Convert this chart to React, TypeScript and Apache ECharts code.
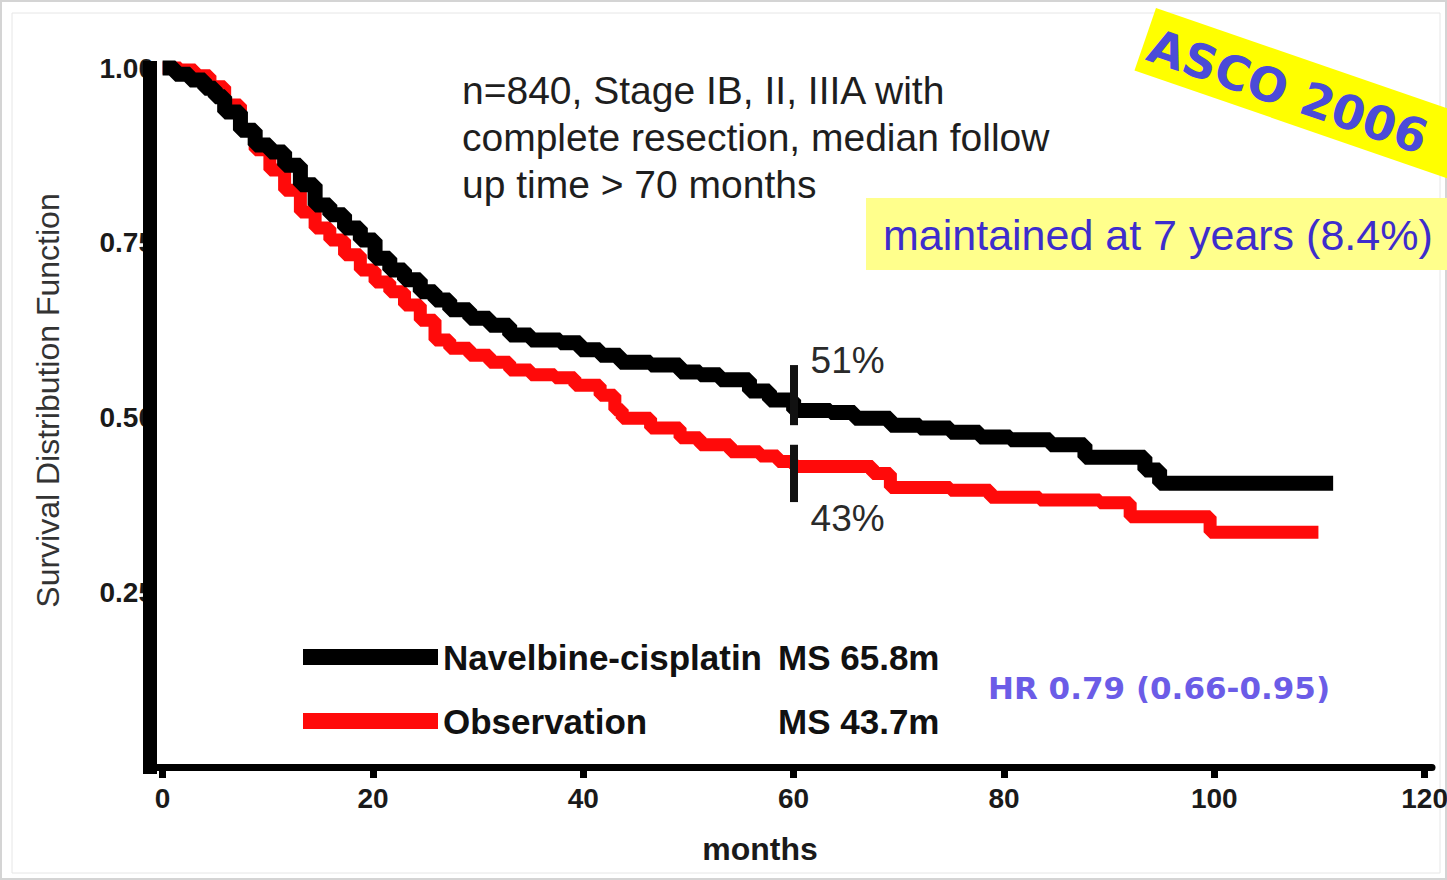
import React, { useEffect, useRef } from "react";
import * as echarts from "echarts";

// Kaplan-Meier overall survival, adjuvant vinorelbine-cisplatin vs observation
const vcMonths = [0, 1.2, 2.6, 4.0, 5.0, 5.9, 7.4, 8.8, 10.2, 11.6, 13.1, 14.5, 15.9, 17.3, 18.8, 20.2, 21.6, 23.0, 24.5, 25.9, 27.3, 29.2, 31.1, 33.0, 35.0, 37.8, 39.7, 41.6, 43.5, 46.4, 49.2, 51.1, 53.0, 55.8, 57.7, 60, 63.5, 65.8, 69.2, 72.0, 74.9, 77.7, 80.6, 84.4, 87.7, 93.4, 94.8, 111.3];
const vcSurvival = [1.0, 0.991, 0.983, 0.971, 0.959, 0.937, 0.911, 0.89, 0.88, 0.861, 0.833, 0.804, 0.79, 0.771, 0.754, 0.728, 0.711, 0.697, 0.68, 0.668, 0.654, 0.642, 0.632, 0.618, 0.611, 0.607, 0.597, 0.589, 0.579, 0.575, 0.565, 0.561, 0.554, 0.538, 0.525, 0.51, 0.507, 0.499, 0.489, 0.485, 0.479, 0.472, 0.468, 0.461, 0.443, 0.425, 0.406, 0.406];

const obsMonths = [0, 1.7, 3.1, 4.5, 5.9, 7.4, 8.8, 10.2, 11.6, 13.1, 14.5, 15.9, 17.3, 18.8, 20.2, 21.6, 23.0, 24.5, 25.9, 27.3, 29.2, 31.1, 33.0, 35.0, 37.3, 39.2, 41.6, 43.0, 43.7, 46.4, 49.2, 51.1, 54.0, 56.8, 58.5, 60, 67.5, 69.2, 74.9, 78.7, 83.4, 89.1, 92.0, 99.6, 109.9];
const obsSurvival = [1.0, 0.997, 0.989, 0.973, 0.947, 0.911, 0.883, 0.854, 0.825, 0.794, 0.771, 0.754, 0.733, 0.711, 0.694, 0.68, 0.661, 0.639, 0.611, 0.599, 0.589, 0.579, 0.568, 0.561, 0.557, 0.546, 0.532, 0.511, 0.499, 0.485, 0.471, 0.461, 0.451, 0.445, 0.437, 0.43, 0.42, 0.4, 0.396, 0.386, 0.382, 0.378, 0.358, 0.336, 0.336];

const armNames = ["Navelbine-cisplatin", "Observation"];
const medianSurvival = ["MS 65.8m", "MS 43.7m"];
const landmarkMonth = 60;

const studyNote = [
  "n=840, Stage IB, II, IIIA with",
  "complete resection, median follow",
  "up time > 70 months",
];
const maintainedNote = "maintained at 7 years (8.4%)";
const hazardRatio = "HR 0.79 (0.66-0.95)";
const meetingTag = "ASCO 2006";

const X_MIN = -1.2;
const X_MAX = 120.7;

const SANS = '"Liberation Sans", Arial, Helvetica, sans-serif';
const WIDE = '"DejaVu Sans", Verdana, sans-serif';

const pairs = (xs: number[], ys: number[]) => xs.map((x, i) => [x, ys[i]]);
const valueAt = (xs: number[], ys: number[], m: number) => ys[xs.indexOf(m)];
const pct = (p: any) => `${Math.round(p.value * 100)}%`;

export default function App() {
  const ref = useRef<HTMLDivElement>(null);

  useEffect(() => {
    if (!ref.current) return;
    const chart = echarts.init(ref.current, undefined, { renderer: "svg" });

    const vcAt = valueAt(vcMonths, vcSurvival, landmarkMonth);
    const obsAt = valueAt(obsMonths, obsSurvival, landmarkMonth);

    const landmarkLabel = {
      show: true,
      position: "inside",
      formatter: pct,
      fontSize: 37,
      color: "#2a2a2a",
      fontFamily: SANS,
    };

    chart.setOption({
      animation: false,
      backgroundColor: "#ffffff",
      grid: { left: 150, right: 15, top: 68, bottom: 113, outerBoundsMode: "none" },
      legend: {
        data: armNames,
        orient: "vertical",
        left: 303,
        top: 637,
        padding: 0,
        itemWidth: 135,
        itemHeight: 16,
        itemGap: 24,
        icon: "rect",
        selectedMode: false,
        formatter: (name: string) =>
          `{n|${name}}{m|${medianSurvival[armNames.indexOf(name)]}}`,
        textStyle: {
          fontSize: 35,
          fontWeight: "bold",
          color: "#111",
          fontFamily: SANS,
          lineHeight: 40,
          rich: {
            n: { width: 335, fontSize: 35, fontWeight: "bold", color: "#111", fontFamily: SANS },
            m: { fontSize: 35, fontWeight: "bold", color: "#111", fontFamily: SANS },
          },
        },
      },
      xAxis: {
        type: "value",
        min: X_MIN,
        max: X_MAX,
        splitLine: { show: false },
        axisLine: { lineStyle: { color: "#000", width: 7 } },
        axisTick: { show: true, length: 11, lineStyle: { color: "#000", width: 7 } },
        axisLabel: {
          fontSize: 28,
          fontWeight: "bold",
          color: "#1a1a1a",
          fontFamily: SANS,
          margin: 17,
          showMinLabel: false,
          showMaxLabel: false,
        },
        name: "months",
        nameLocation: "middle",
        nameGap: 66,
        nameTextStyle: {
          fontSize: 32,
          fontWeight: "bold",
          color: "#1a1a1a",
          fontFamily: SANS,
          padding: [0, 62, 0, 0],
        },
      },
      yAxis: {
        type: "value",
        min: 0,
        max: 1,
        interval: 0.25,
        splitLine: { show: false },
        axisLine: { show: false, onZero: false },
        axisTick: { show: false },
        axisLabel: {
          formatter: (v: number) => v.toFixed(2),
          fontSize: 28,
          fontWeight: "bold",
          color: "#1a1a1a",
          fontFamily: SANS,
          margin: -4,
          showMinLabel: false,
        },
        name: "Survival Distribution Function",
        nameLocation: "middle",
        nameGap: 86,
        nameTextStyle: {
          fontSize: 32,
          color: "#333",
          fontFamily: SANS,
          padding: [0, 0, 0, 34],
        },
      },
      series: [
        {
          name: armNames[1],
          type: "line",
          step: "end",
          data: pairs(obsMonths, obsSurvival),
          showSymbol: false,
          clip: false,
          z: 3,
          color: "#ff0a0a",
          lineStyle: { color: "#ff0a0a", width: 13 },
          markLine: {
            silent: true,
            symbol: ["none", "none"],
            label: { show: false },
            lineStyle: { color: "#000", type: "solid" },
            data: [
              [
                { coord: [X_MIN, 0], lineStyle: { color: "#000", width: 14, cap: "square", type: "solid" } },
                { coord: [X_MIN, 1] },
              ],
              [
                { coord: [landmarkMonth, obsAt + 0.031], lineStyle: { color: "#111", width: 8, type: "solid" } },
                { coord: [landmarkMonth, obsAt - 0.051] },
              ],
            ],
          },
          markPoint: {
            silent: true,
            symbol: "circle",
            symbolSize: 1,
            itemStyle: { color: "rgba(0,0,0,0)" },
            label: { ...landmarkLabel, offset: [54, 52] },
            data: [{ coord: [landmarkMonth, obsAt], value: obsAt }],
          },
        },
        {
          name: armNames[0],
          type: "line",
          step: "end",
          data: pairs(vcMonths, vcSurvival),
          showSymbol: false,
          clip: false,
          z: 4,
          color: "#000000",
          lineStyle: { color: "#000000", width: 15 },
          markLine: {
            silent: true,
            symbol: ["none", "none"],
            label: { show: false },
            lineStyle: { color: "#111", width: 8, type: "solid" },
            data: [
              [
                { coord: [landmarkMonth, vcAt - 0.021] },
                { coord: [landmarkMonth, vcAt + 0.065] },
              ],
            ],
          },
          markPoint: {
            silent: true,
            symbol: "circle",
            symbolSize: 1,
            itemStyle: { color: "rgba(0,0,0,0)" },
            label: { ...landmarkLabel, offset: [54, -50] },
            data: [{ coord: [landmarkMonth, vcAt], value: vcAt }],
          },
        },
      ],
      graphic: [
        {
          type: "rect",
          silent: true,
          z: -10,
          shape: { x: 1, y: 1, width: 1445, height: 878 },
          style: { fill: "none", stroke: "#d4d4d4", lineWidth: 2 },
        },
        {
          type: "rect",
          silent: true,
          z: -10,
          shape: { x: 12, y: 13, width: 1428, height: 860 },
          style: { fill: "none", stroke: "#e6e6e6", lineWidth: 1 },
        },
        {
          type: "text",
          silent: true,
          x: 462,
          y: 67,
          style: {
            text: studyNote.join("\n"),
            font: `39px ${SANS}`,
            lineHeight: 47,
            fill: "#1e1e1e",
            textVerticalAlign: "top",
          },
        },
        {
          type: "rect",
          silent: true,
          shape: { x: 866, y: 198, width: 600, height: 72 },
          style: { fill: "#ffff8c" },
        },
        {
          type: "text",
          silent: true,
          x: 883,
          y: 235,
          style: {
            text: maintainedNote,
            font: `43px ${SANS}`,
            fill: "#3d2dcc",
            textVerticalAlign: "middle",
          },
        },
        {
          type: "group",
          silent: true,
          x: 1156,
          y: 8,
          rotation: -19 * Math.PI / 180,
          children: [
            {
              type: "rect",
              shape: { x: 0, y: 0, width: 420, height: 66 },
              style: { fill: "#ffff00" },
            },
            {
              type: "text",
              x: 6,
              y: 36,
              style: {
                text: meetingTag,
                font: `bold 47px ${WIDE}`,
                fill: "#4b4bd8",
                textVerticalAlign: "middle",
              },
            },
          ],
        },
        {
          type: "text",
          silent: true,
          x: 988,
          y: 688,
          style: {
            text: hazardRatio,
            font: `bold 31px ${WIDE}`,
            fill: "#6b5ce7",
            textVerticalAlign: "middle",
          },
        },
      ],
    });

    return () => chart.dispose();
  }, []);

  return (
    <div
      ref={ref}
      style={{ position: "absolute", left: 0, top: 0, width: 1447, height: 880 }}
    />
  );
}
